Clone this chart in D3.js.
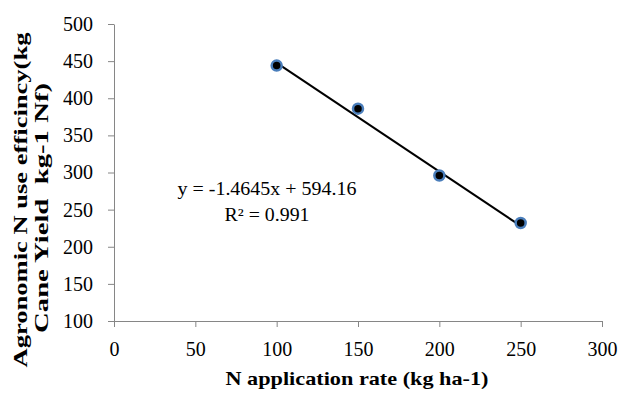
<!DOCTYPE html>
<html>
<head>
<meta charset="utf-8">
<script src="https://cdn.jsdelivr.net/npm/d3@7"></script>
<style>
  body { margin: 0; background: #fff; }
  svg text { font-family: "Liberation Serif", "Times New Roman", serif; }
  .axis path, .axis line { stroke: #868686; }
  .axis text { font-size: 20px; fill: #000; }
</style>
</head>
<body>
<svg id="chart" width="619" height="403"></svg>
<script>
// N rates (kg/ha) and agronomic N use efficiency
var nRates = [100, 150, 200, 250];
var efficiency = [444, 386, 296, 232];
var xTicks = [0, 50, 100, 150, 200, 250, 300];
var yTicks = [100, 150, 200, 250, 300, 350, 400, 450, 500];
// fitted line shown on the chart
var slope = -1.4645, intercept = 594.16;
var eqLines = ["y = -1.4645x + 594.16", "R² = 0.991"];

var serif = "'Liberation Serif', 'Times New Roman', serif";
var svg = d3.select("#chart");
var margin = { top: 24, right: 17, bottom: 82, left: 114 },
    width = 619 - margin.left - margin.right,
    height = 403 - margin.top - margin.bottom;

var g = svg.append("g")
    .attr("transform", "translate(" + margin.left + "," + margin.top + ")");

var x = d3.scaleLinear().domain([0, 300]).range([0, width]);
var y = d3.scaleLinear().domain([100, 500]).range([height, 0]);

// axes
g.append("g")
    .attr("class", "axis")
    .attr("transform", "translate(0," + height + ")")
    .call(d3.axisBottom(x).tickValues(xTicks).tickSize(6).tickSizeOuter(0).tickPadding(15))
    .attr("font-family", serif);

g.append("g")
    .attr("class", "axis")
    .call(d3.axisLeft(y).tickValues(yTicks).tickSize(6).tickSizeOuter(0).tickPadding(15))
    .attr("font-family", serif);

// trend line
var fit = d3.line()
    .x(function (d) { return x(d); })
    .y(function (d) { return y(slope * d + intercept); });
g.append("path")
    .datum([d3.min(nRates), d3.max(nRates)])
    .attr("d", fit)
    .attr("fill", "none")
    .attr("stroke", "#000")
    .attr("stroke-width", 2);

// points
var pts = nRates.map(function (d, i) { return { n: d, v: efficiency[i] }; });
g.selectAll("circle.pt")
    .data(pts)
    .enter()
    .append("circle")
    .attr("class", "pt")
    .attr("cx", function (d) { return x(d.n); })
    .attr("cy", function (d) { return y(d.v); })
    .attr("r", 5)
    .attr("fill", "#000")
    .attr("stroke", "#4a7ebb")
    .attr("stroke-width", 2.5);

// equation
var eqLen = [179, 85];
g.selectAll("text.eq")
    .data(eqLines)
    .enter()
    .append("text")
    .attr("class", "eq")
    .attr("text-anchor", "middle")
    .attr("font-size", 18)
    .attr("x", 267 - margin.left)
    .attr("y", function (d, i) { return 195 - margin.top + i * 26; })
    .attr("textLength", function (d, i) { return eqLen[i]; })
    .attr("lengthAdjust", "spacingAndGlyphs")
    .text(function (d) { return d; });

// axis titles
svg.append("text")
    .attr("x", 357)
    .attr("y", 385)
    .attr("text-anchor", "middle")
    .attr("font-size", 19)
    .attr("font-weight", "bold")
    .attr("textLength", 263)
    .attr("lengthAdjust", "spacingAndGlyphs")
    .text("N application rate (kg ha-1)");

var yTitle = [
    { t: "Agronomic N use efficincy(kg", cx: 20, cy: 200, len: 335 },
    { t: "Cane Yield  kg-1 Nf)", cx: 41, cy: 208, len: 250 }
];
svg.selectAll("text.ytitle")
    .data(yTitle)
    .enter()
    .append("text")
    .attr("class", "ytitle")
    .attr("transform", function (d) { return "translate(" + d.cx + "," + d.cy + ") rotate(-90)"; })
    .attr("text-anchor", "middle")
    .attr("dominant-baseline", "central")
    .attr("font-size", 19)
    .attr("font-weight", "bold")
    .attr("textLength", function (d) { return d.len; })
    .attr("lengthAdjust", "spacingAndGlyphs")
    .style("white-space", "pre")
    .text(function (d) { return d.t; });
</script>
</body>
</html>
